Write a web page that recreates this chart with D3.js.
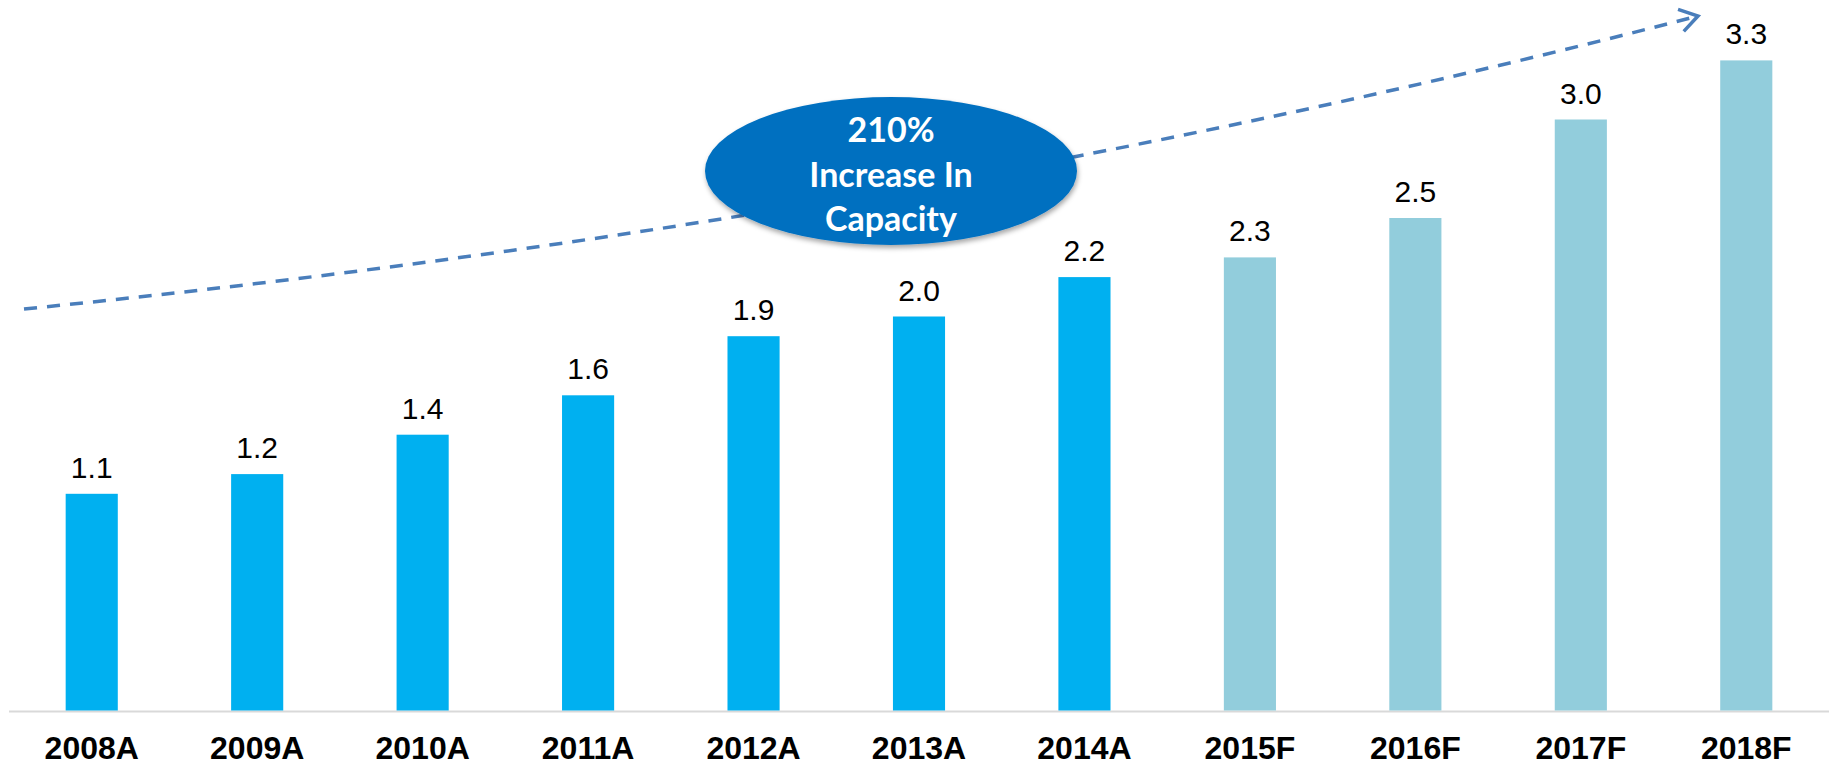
<!DOCTYPE html>
<html>
<head>
<meta charset="utf-8">
<script src="https://cdn.jsdelivr.net/npm/d3@7"></script>
<style>
  html, body { margin: 0; padding: 0; background: #fff; }
  svg { display: block; }
</style>
</head>
<body>
<svg id="chart" width="1832" height="765"></svg>
<script>
// ---- data ----
const categories = ["2008A","2009A","2010A","2011A","2012A","2013A","2014A","2015F","2016F","2017F","2018F"];
const values = [1.1, 1.2, 1.4, 1.6, 1.9, 2.0, 2.2, 2.3, 2.5, 3.0, 3.3];
const kinds = ["A","A","A","A","A","A","A","F","F","F","F"];
const valueLabels = ["1.1","1.2","1.4","1.6","1.9","2.0","2.2","2.3","2.5","3.0","3.3"];
const calloutLines = ["210%", "Increase In", "Capacity"];

const colors = { A: "#00B0F0", F: "#92CDDC" };

const svg = d3.select("#chart");
const axisY = 710.5;

const x = d3.scaleBand()
  .domain(categories)
  .range([9, 1829])
  .paddingInner(0.685)
  .paddingOuter(0.3425);

const y = d3.scaleLinear()
  .domain([0, 3.3])
  .range([axisY, axisY - 197 * 3.3]);

const defs = svg.append("defs");
const filt = defs.append("filter").attr("id", "shadow").attr("x", "-20%").attr("y", "-20%").attr("width", "140%").attr("height", "150%");
filt.append("feDropShadow").attr("dx", 1).attr("dy", 3).attr("stdDeviation", 2.5).attr("flood-color", "#000").attr("flood-opacity", 0.35);

// Dashed trend arrow (behind ellipse)
const p0 = [24, 309], pc = [913, 220], p2 = [1698, 16];
const trend = d3.path();
trend.moveTo(p0[0], p0[1]);
trend.quadraticCurveTo(pc[0], pc[1], p2[0], p2[1]);
svg.append("path")
  .attr("d", trend.toString())
  .attr("fill", "none")
  .attr("stroke", "#4A7EBB")
  .attr("stroke-width", 3.5)
  .attr("stroke-dasharray", "13,10");

const ang = Math.atan2(p2[1] - pc[1], p2[0] - pc[0]);
const armLen = 21, armAng = Math.PI / 5.5;
const head = d3.path();
head.moveTo(p2[0] - armLen * Math.cos(ang - armAng), p2[1] - armLen * Math.sin(ang - armAng));
head.lineTo(p2[0], p2[1]);
head.lineTo(p2[0] - armLen * Math.cos(ang + armAng), p2[1] - armLen * Math.sin(ang + armAng));
svg.append("path")
  .attr("d", head.toString())
  .attr("fill", "none")
  .attr("stroke", "#4A7EBB")
  .attr("stroke-width", 3.5);

// axis line
svg.append("line")
  .attr("x1", 9).attr("x2", 1829)
  .attr("y1", axisY + 1).attr("y2", axisY + 1)
  .attr("stroke", "#D9D9D9")
  .attr("stroke-width", 2);

// bars
svg.selectAll("rect.bar")
  .data(categories)
  .join("rect")
  .attr("class", "bar")
  .attr("x", d => x(d))
  .attr("width", x.bandwidth())
  .attr("y", (d, i) => y(values[i]))
  .attr("height", (d, i) => y(0) - y(values[i]))
  .attr("fill", (d, i) => colors[kinds[i]]);

// value labels
svg.selectAll("text.val")
  .data(categories)
  .join("text")
  .attr("class", "val")
  .attr("x", d => x(d) + x.bandwidth() / 2)
  .attr("y", (d, i) => y(values[i]) - 16)
  .attr("text-anchor", "middle")
  .attr("font-family", "'Liberation Sans', Arial, sans-serif")
  .attr("font-size", 30)
  .attr("fill", "#000")
  .text((d, i) => valueLabels[i]);

// category labels
svg.selectAll("text.cat")
  .data(categories)
  .join("text")
  .attr("class", "cat")
  .attr("x", d => x(d) + x.bandwidth() / 2)
  .attr("y", 759)
  .attr("text-anchor", "middle")
  .attr("font-family", "'Liberation Sans', Arial, sans-serif")
  .attr("font-weight", "bold")
  .attr("font-size", 32)
  .attr("fill", "#000")
  .text(d => d);

// callout ellipse
const g = svg.append("g");
g.append("ellipse")
  .attr("cx", 891).attr("cy", 171)
  .attr("rx", 186).attr("ry", 74)
  .attr("fill", "#0070C0")
  .attr("filter", "url(#shadow)");

g.selectAll("text")
  .data(calloutLines)
  .join("text")
  .attr("x", 891)
  .attr("y", (d, i) => 142 + i * 44.5)
  .attr("text-anchor", "middle")
  .attr("font-family", "Lato, 'Open Sans', sans-serif")
  .attr("font-weight", "bold")
  .attr("font-size", 34)
  .attr("fill", "#fff")
  .text(d => d);
</script>
</body>
</html>
